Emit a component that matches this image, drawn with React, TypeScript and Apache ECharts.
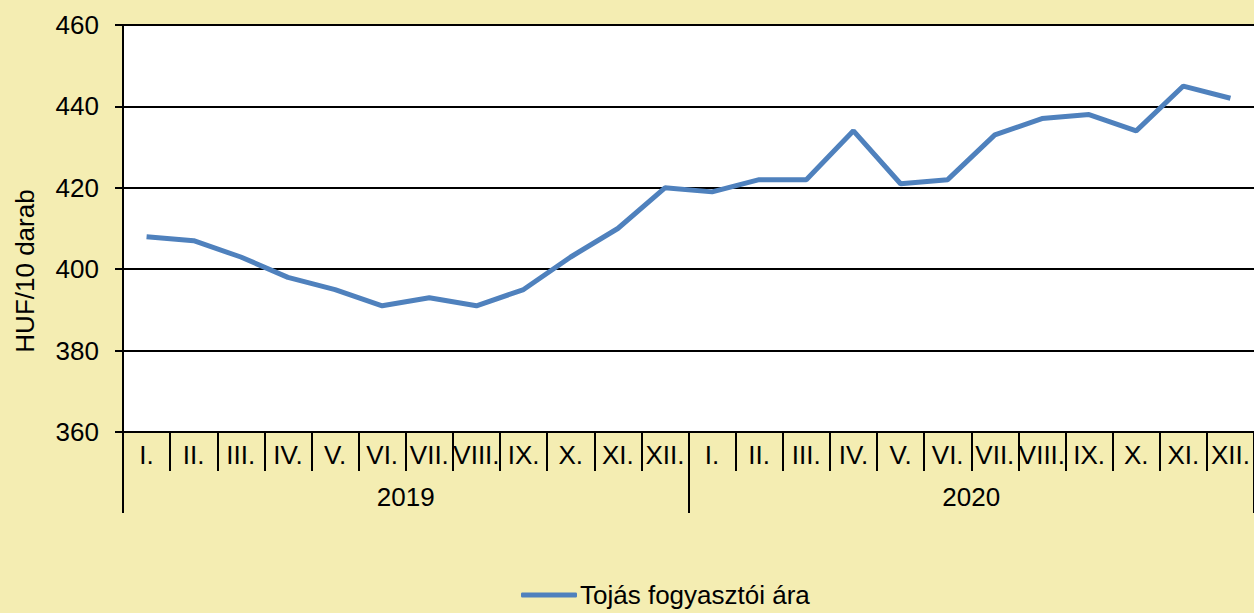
import React, { useEffect, useRef } from "react";
import * as echarts from "echarts";

const months = ["I.", "II.", "III.", "IV.", "V.", "VI.", "VII.", "VIII.", "IX.", "X.", "XI.", "XII."];
const years = ["2019", "2020"];
const categories = [...months, ...months];
const prices = [408, 407, 403, 398, 395, 391, 393, 391, 395, 403, 410, 420, 419, 422, 422, 434, 421, 422, 433, 437, 438, 434, 445, 442];
const seriesName = "Tojás fogyasztói ára";
const yAxisTitle = "HUF/10 darab";

export default function App() {
  const ref = useRef<HTMLDivElement>(null);
  useEffect(() => {
    const chart = echarts.init(ref.current!, null, { renderer: "svg" });
    const font = "Liberation Sans, Arial, sans-serif";
    const fs = 26;
    chart.setOption({
      animation: false,
      backgroundColor: "#F4EDB2",
      textStyle: { fontFamily: font },
      grid: { left: 123, right: 0, top: 25, bottom: 181, show: true, backgroundColor: "#FFFFFF", borderWidth: 0 },
      xAxis: [
        {
          type: "category",
          data: categories,
          position: "bottom",
          boundaryGap: true,
          axisLine: { show: true, lineStyle: { color: "#000", width: 2 } },
          axisTick: { show: true, length: 39, lineStyle: { color: "#000", width: 2 } },
          axisLabel: { interval: 0, color: "#000", fontSize: fs, margin: 10, fontFamily: font },
          splitLine: { show: false },
        },
        {
          type: "category",
          data: years,
          position: "bottom",
          boundaryGap: true,
          axisLine: { show: false },
          axisTick: { show: true, length: 81, lineStyle: { color: "#000", width: 2 } },
          axisLabel: { interval: 0, color: "#000", fontSize: fs, margin: 52, fontFamily: font },
          splitLine: { show: false },
        },
      ],
      yAxis: {
        type: "value",
        min: 360,
        max: 460,
        interval: 20,
        axisLine: { show: true, lineStyle: { color: "#000", width: 2 } },
        axisTick: { show: true, length: 8, lineStyle: { color: "#000", width: 2 } },
        axisLabel: { color: "#000", fontSize: fs, margin: 24, fontFamily: font },
        splitLine: { show: true, lineStyle: { color: "#000", width: 2 } },
      },
      legend: {
        left: 521,
        top: 582,
        padding: 0,
        icon: "roundRect",
        itemWidth: 56,
        itemHeight: 5,
        itemStyle: { color: "#4F81BD" },
        textStyle: { color: "#000", fontSize: fs, fontFamily: font, padding: [0, 0, 0, -2] },
        data: [seriesName],
      },
      graphic: [
        {
          type: "text",
          x: 25,
          y: 271,
          rotation: Math.PI / 2,
          style: {
            text: yAxisTitle,
            fill: "#000",
            fontSize: fs,
            fontFamily: font,
            align: "center",
            verticalAlign: "middle",
          },
        },
      ],
      series: [
        {
          name: seriesName,
          type: "line",
          xAxisIndex: 0,
          data: prices,
          showSymbol: false,
          symbol: "none",
          lineStyle: { color: "#4F81BD", width: 5 },
          itemStyle: { color: "#4F81BD" },
        },
      ],
    });
    return () => chart.dispose();
  }, []);
  return <div ref={ref} style={{ position: "absolute", left: 0, top: 0, width: 1254, height: 613 }} />;
}
